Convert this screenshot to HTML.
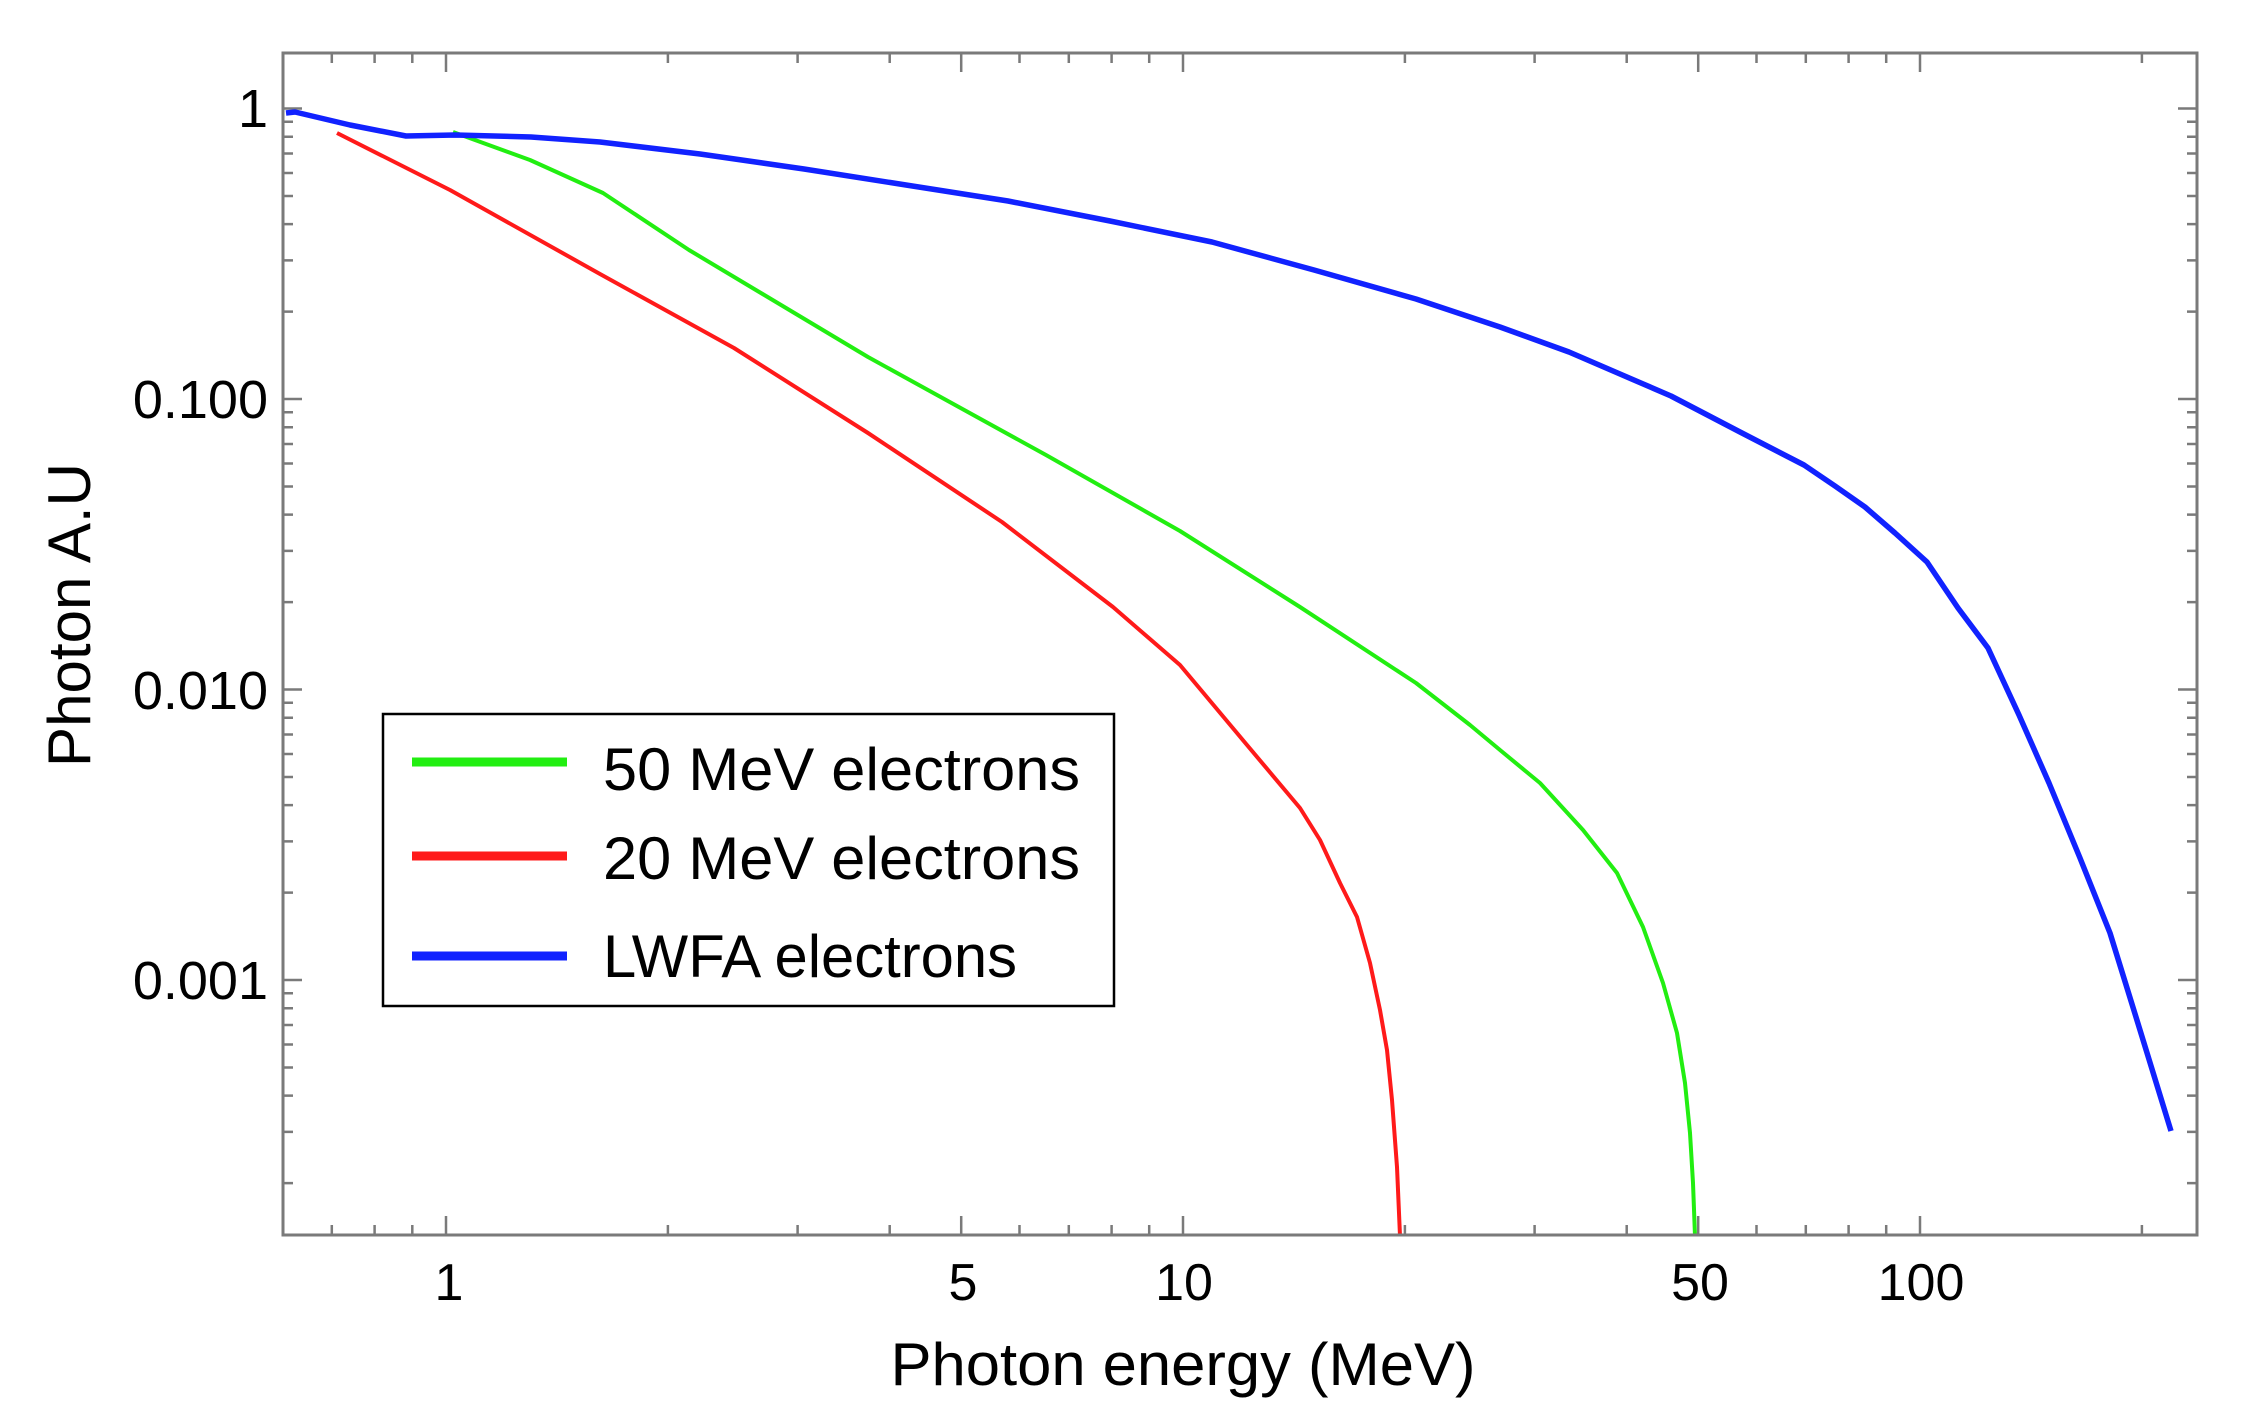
<!DOCTYPE html>
<html><head><meta charset="utf-8"><style>
html,body{margin:0;padding:0;background:#fff;}
svg{display:block;}
text{font-family:"Liberation Sans",sans-serif;fill:#000;}
</style></head><body>
<svg width="2247" height="1424" viewBox="0 0 2247 1424" xmlns="http://www.w3.org/2000/svg">
<rect width="2247" height="1424" fill="#fff"/>
<g stroke="#7a7a7a" stroke-width="2.5" fill="none">
<path d="M283 108.5h19M283 399h19M283 689.5h19M283 980h19"/>
<path d="M2197 108.5h-19M2197 399h-19M2197 689.5h-19M2197 980h-19"/>
<path d="M283 311.6h10M283 260.4h10M283 224.1h10M283 196h10M283 173h10M283 153.5h10M283 136.7h10M283 121.8h10
M283 602.1h10M283 550.9h10M283 514.6h10M283 486.5h10M283 463.5h10M283 444h10M283 427.2h10M283 412.3h10
M283 892.6h10M283 841.4h10M283 805.1h10M283 777h10M283 754h10M283 734.5h10M283 717.7h10M283 702.8h10
M283 1183.1h10M283 1131.9h10M283 1095.6h10M283 1067.5h10M283 1044.5h10M283 1025h10M283 1008.2h10M283 993.3h10"/>
<path d="M2197 311.6h-10M2197 260.4h-10M2197 224.1h-10M2197 196h-10M2197 173h-10M2197 153.5h-10M2197 136.7h-10M2197 121.8h-10
M2197 602.1h-10M2197 550.9h-10M2197 514.6h-10M2197 486.5h-10M2197 463.5h-10M2197 444h-10M2197 427.2h-10M2197 412.3h-10
M2197 892.6h-10M2197 841.4h-10M2197 805.1h-10M2197 777h-10M2197 754h-10M2197 734.5h-10M2197 717.7h-10M2197 702.8h-10
M2197 1183.1h-10M2197 1131.9h-10M2197 1095.6h-10M2197 1067.5h-10M2197 1044.5h-10M2197 1025h-10M2197 1008.2h-10M2197 993.3h-10"/>
<path d="M446 1235v-19M961.2 1235v-19M1183 1235v-19M1698.2 1235v-19M1920 1235v-19"/>
<path d="M446 53v19M961.2 53v19M1183 53v19M1698.2 53v19M1920 53v19"/>
<path d="M331.8 1235v-10M374.6 1235v-10M412.3 1235v-10M667.9 1235v-10M797.6 1235v-10M889.7 1235v-10M1019.5 1235v-10M1068.8 1235v-10M1111.6 1235v-10M1149.2 1235v-10M1404.9 1235v-10M1534.6 1235v-10M1626.7 1235v-10M1756.5 1235v-10M1805.8 1235v-10M1848.6 1235v-10M1886.2 1235v-10M2141.9 1235v-10"/>
<path d="M331.8 53v10M374.6 53v10M412.3 53v10M667.9 53v10M797.6 53v10M889.7 53v10M1019.5 53v10M1068.8 53v10M1111.6 53v10M1149.2 53v10M1404.9 53v10M1534.6 53v10M1626.7 53v10M1756.5 53v10M1805.8 53v10M1848.6 53v10M1886.2 53v10M2141.9 53v10"/>
</g>
<g fill="none" stroke-linejoin="round" stroke-linecap="butt">
<polyline stroke="#ff1a1a" stroke-width="4" points="337,133 450,190 600,274 734,348 868,433 1002,522 1113,607 1180,665 1247,745 1300,808 1320,840 1340,883 1357,917 1370,963 1380,1010 1387,1050 1392,1100 1397,1167 1400,1236"/>
<polyline stroke="#22ee11" stroke-width="4" points="453,132 530,160 603,193 689,250 868,357 1046,455 1180,531 1300,607 1416,683 1470,725 1500,750 1540,783 1583,830 1617,873 1643,927 1663,983 1677,1033 1685,1083 1690,1133 1693,1183 1695,1236"/>
<polyline stroke="#1122ff" stroke-width="5.5" points="286,113 295,112 350,125 406,136 455,135 531,137 600,142 700,154 804,169 906,185 1008,201 1110,221 1212,242 1314,270 1416,299 1500,327 1569,352 1620,374 1671,396 1740,432 1804,465 1835,486 1865,507 1895,533 1927,562 1958,608 1988,648 2019,715 2049,783 2080,858 2110,933 2140,1030 2171,1131"/>
</g>
<rect x="283" y="53" width="1914" height="1182" fill="none" stroke="#7a7a7a" stroke-width="3"/>
<g font-size="54" text-anchor="end">
<text x="268" y="127">1</text>
<text x="268" y="418">0.100</text>
<text x="268" y="709">0.010</text>
<text x="268" y="999">0.001</text>
</g>
<g font-size="52" text-anchor="middle">
<text x="449" y="1300">1</text>
<text x="963" y="1300">5</text>
<text x="1184" y="1300">10</text>
<text x="1700" y="1300">50</text>
<text x="1921" y="1300">100</text>
</g>
<text x="1183" y="1385" font-size="60" text-anchor="middle" textLength="585" lengthAdjust="spacingAndGlyphs">Photon energy (MeV)</text>
<text transform="translate(90,615) rotate(-90)" font-size="60" text-anchor="middle" textLength="304" lengthAdjust="spacingAndGlyphs">Photon A.U</text>
<rect x="383" y="714" width="731" height="292" fill="#fff" stroke="#000" stroke-width="2.5"/>
<line x1="412" y1="762" x2="567" y2="762" stroke="#22ee11" stroke-width="9"/>
<line x1="412" y1="856" x2="567" y2="856" stroke="#ff1a1a" stroke-width="9"/>
<line x1="412" y1="956" x2="567" y2="956" stroke="#1122ff" stroke-width="9"/>
<g font-size="60">
<text x="603" y="790" textLength="477" lengthAdjust="spacingAndGlyphs">50 MeV electrons</text>
<text x="603" y="879" textLength="477" lengthAdjust="spacingAndGlyphs">20 MeV electrons</text>
<text x="603" y="977" textLength="414" lengthAdjust="spacingAndGlyphs">LWFA electrons</text>
</g>
</svg>
</body></html>
